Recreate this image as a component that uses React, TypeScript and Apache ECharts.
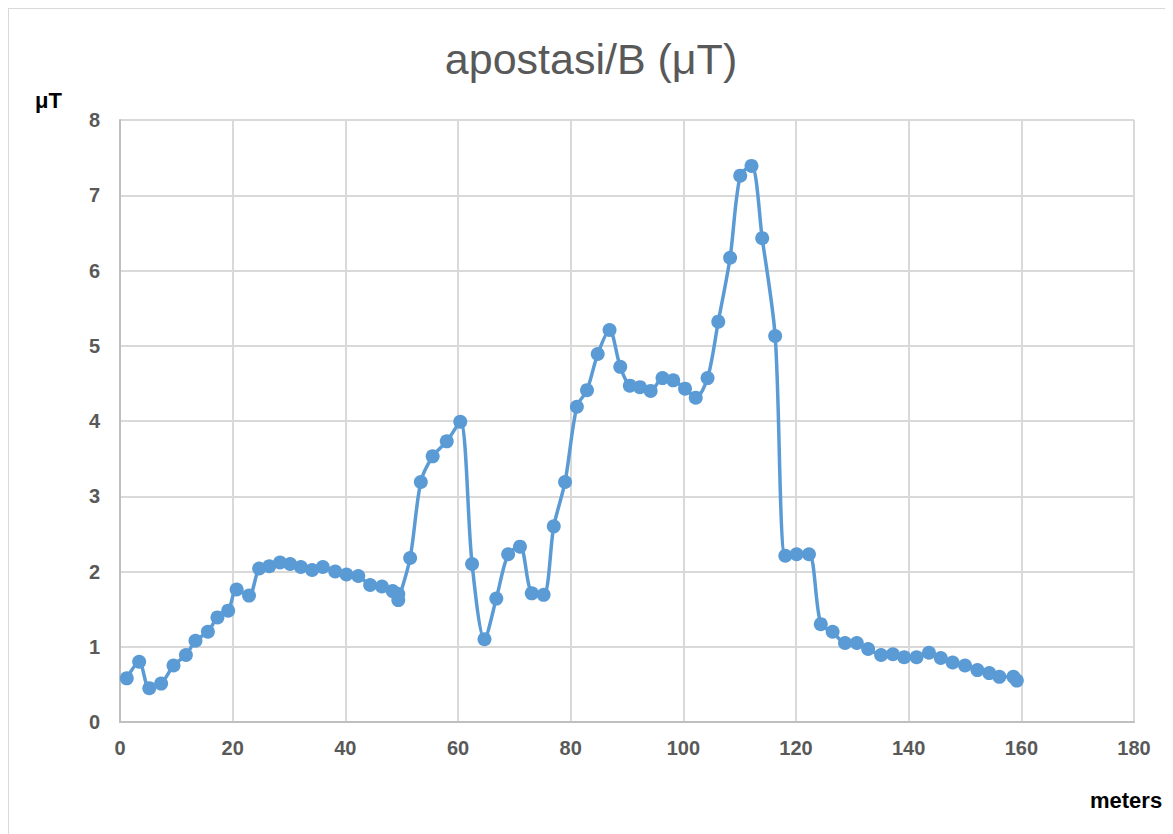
import React, { useEffect, useRef } from "react";
import * as echarts from "echarts";

const distances = [1.2, 3.4, 5.2, 7.3, 9.5, 11.7, 13.4, 15.6, 17.3, 19.2, 20.7, 22.9, 24.7, 26.5, 28.4, 30.2, 32.1, 34.1, 36.0, 38.2, 40.2, 42.3, 44.4, 46.5, 48.4, 49.4, 49.4, 51.5, 53.4, 55.5, 58.0, 60.4, 62.5, 64.7, 66.8, 68.9, 71.0, 73.1, 75.2, 77.0, 79.0, 81.1, 82.9, 84.8, 86.9, 88.8, 90.5, 92.3, 94.2, 96.3, 98.2, 100.3, 102.2, 104.3, 106.2, 108.3, 110.1, 112.1, 114.0, 116.3, 118.1, 120.1, 122.3, 124.4, 126.5, 128.7, 130.8, 132.8, 135.1, 137.2, 139.2, 141.4, 143.6, 145.7, 147.8, 150.0, 152.2, 154.3, 156.1, 158.6, 159.2];
const fieldValues = [0.58, 0.80, 0.45, 0.51, 0.75, 0.89, 1.08, 1.20, 1.39, 1.48, 1.76, 1.68, 2.04, 2.07, 2.12, 2.10, 2.06, 2.02, 2.06, 2.00, 1.96, 1.94, 1.82, 1.80, 1.74, 1.70, 1.62, 2.18, 3.19, 3.53, 3.73, 3.99, 2.10, 1.10, 1.64, 2.23, 2.33, 1.71, 1.69, 2.60, 3.19, 4.19, 4.41, 4.89, 5.21, 4.72, 4.47, 4.45, 4.40, 4.57, 4.54, 4.43, 4.31, 4.57, 5.32, 6.17, 7.26, 7.39, 6.43, 5.13, 2.21, 2.23, 2.23, 1.30, 1.20, 1.05, 1.05, 0.97, 0.89, 0.90, 0.86, 0.86, 0.92, 0.85, 0.79, 0.75, 0.69, 0.65, 0.60, 0.60, 0.55];

const titleText = "apostasi/B (μT)";
const yUnit = "μT";
const xUnit = "meters";

const labelFont = "'Liberation Sans', Arial, sans-serif";

export default function App() {
  const ref = useRef<HTMLDivElement>(null);
  useEffect(() => {
    if (!ref.current) return;
    const chart = echarts.init(ref.current, undefined, { renderer: "svg" });
    const data = distances.map((d, i) => [d, fieldValues[i]]);
    chart.setOption({
      animation: false,
      backgroundColor: "#ffffff",
      title: {
        text: titleText,
        left: "center",
        top: 23,
        textStyle: {
          fontFamily: labelFont,
          fontWeight: "normal",
          fontSize: 43,
          color: "#595959",
        },
      },
      grid: { left: 111, top: 111, width: 1014, height: 602 },
      xAxis: {
        type: "value",
        min: 0,
        max: 180,
        interval: 20,
        axisLine: { show: true, lineStyle: { color: "#bfbfbf", width: 2 } },
        axisTick: { show: false },
        splitLine: { show: true, lineStyle: { color: "#d9d9d9", width: 2 } },
        axisLabel: {
          margin: 16,
          fontFamily: labelFont,
          fontWeight: "bold",
          fontSize: 20,
          color: "#595959",
        },
      },
      yAxis: {
        type: "value",
        min: 0,
        max: 8,
        interval: 1,
        axisLine: { show: true, lineStyle: { color: "#bfbfbf", width: 2 } },
        axisTick: { show: false },
        splitLine: { show: true, lineStyle: { color: "#d9d9d9", width: 2 } },
        axisLabel: {
          margin: 20,
          fontFamily: labelFont,
          fontWeight: "bold",
          fontSize: 20,
          color: "#595959",
        },
      },
      graphic: [
        {
          type: "text",
          left: 26,
          top: 80,
          style: {
            text: yUnit,
            fontFamily: labelFont,
            fontWeight: "bold",
            fontSize: 22,
            fill: "#000000",
          },
        },
        {
          type: "text",
          left: 1081,
          top: 780,
          style: {
            text: xUnit,
            fontFamily: labelFont,
            fontWeight: "bold",
            fontSize: 22,
            fill: "#000000",
          },
        },
      ],
      series: [
        {
          type: "line",
          data,
          smooth: 0.3,
          symbol: "circle",
          symbolSize: 14,
          lineStyle: { color: "#5b9bd5", width: 3.5 },
          itemStyle: { color: "#5b9bd5" },
        },
      ],
    });
    return () => chart.dispose();
  }, []);
  return (
    <div style={{ width: 1165, height: 826, boxSizing: "border-box", borderLeft: "1px solid #d9d9d9", borderTop: "1px solid #d9d9d9" }}>
      <div ref={ref} style={{ width: 1164, height: 825 }} />
    </div>
  );
}
